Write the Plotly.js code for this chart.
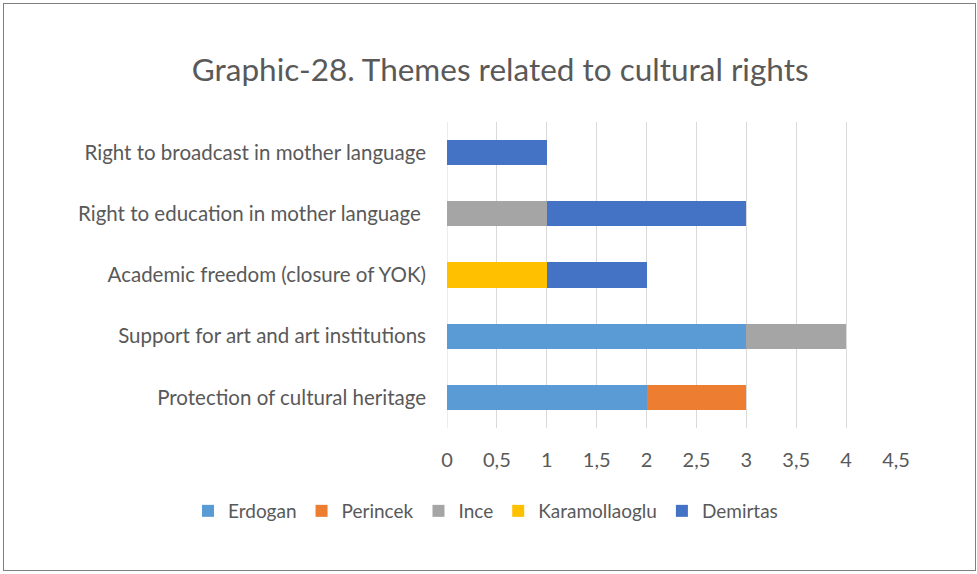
<!DOCTYPE html>
<html>
<head>
<meta charset="utf-8">
<script src="https://cdn.plot.ly/plotly-3.0.1.min.js"></script>
<style>
  html, body { margin: 0; padding: 0; background: #fff; }
  #wrap { position: relative; width: 977px; height: 574px; }
  #chart { width: 977px; height: 574px; }
  #frame { position: absolute; left: 3px; top: 3px; width: 971px; height: 566px; border: 1px solid #7f7f7f; pointer-events: none; }
</style>
</head>
<body>
<div id="wrap">
  <div id="chart"></div>
  <div id="frame"></div>
</div>
<script>
const categories = [
  "Protection of cultural heritage",
  "Support for art and art institutions",
  "Academic freedom (closure of YOK)",
  "Right to education in mother language\u00a0",
  "Right to broadcast in mother language"
];
const seriesNames = ["Erdogan", "Perincek", "Ince", "Karamollaoglu", "Demirtas"];
const erdogan       = [2, 3, 0, 0, 0];
const perincek      = [1, 0, 0, 0, 0];
const ince          = [0, 1, 0, 1, 0];
const karamollaoglu = [0, 0, 1, 0, 0];
const demirtas      = [0, 0, 1, 2, 1];
const tickValues = [0, 0.5, 1, 1.5, 2, 2.5, 3, 3.5, 4, 4.5];

const colors = ["#5B9BD5", "#ED7D31", "#A5A5A5", "#FFC000", "#4472C4"];
const values = [erdogan, perincek, ince, karamollaoglu, demirtas];

const FONT = "Lato, 'Open Sans', sans-serif";
const traces = seriesNames.map((name, i) => ({
  type: "bar",
  orientation: "h",
  name: name,
  x: values[i],
  y: categories,
  marker: { color: colors[i], line: { width: 0 } },
  hoverinfo: "none"
}));

const layout = {
  width: 977,
  height: 574,
  margin: { l: 447, r: 81, t: 122, b: 146 },
  paper_bgcolor: "#ffffff",
  plot_bgcolor: "#ffffff",
  barmode: "stack",
  bargap: 0.59,
  separators: ",.",
  font: { family: FONT, color: "#595959", size: 20 },
  title: {
    text: "Graphic-28. Themes related to cultural rights",
    font: { family: FONT, size: 31.5, color: "#595959" },
    x: 0.512, xref: "container", xanchor: "center",
    y: 1 - 70 / 574, yref: "container", yanchor: "middle"
  },
  xaxis: {
    range: [0, 4.5],
    tickvals: tickValues,
    ticks: "",
    showgrid: true,
    gridcolor: "#d9d9d9",
    gridwidth: 1,
    zeroline: false,
    showline: false,
    ticklabelstandoff: 18,
    tickfont: { family: FONT, size: 20, color: "#595959" },
    fixedrange: true
  },
  yaxis: {
    type: "category",
    categoryorder: "array",
    categoryarray: categories,
    ticks: "",
    showgrid: false,
    zeroline: false,
    showline: false,
    ticklabelstandoff: 20,
    tickfont: { family: FONT, size: 20.5, color: "#595959" },
    fixedrange: true
  },
  shapes: [{
    type: "line", xref: "x", yref: "paper",
    x0: 0, x1: 0, y0: 0, y1: 1,
    line: { color: "#d9d9d9", width: 1 },
    layer: "below"
  }],
  legend: {
    orientation: "h",
    xref: "paper", x: (188 - 447) / 449, xanchor: "left",
    yref: "paper", y: (428 - 511) / 306, yanchor: "middle",
    font: { family: FONT, size: 19, color: "#595959" },
    itemwidth: 30,
    traceorder: "normal",
    bgcolor: "rgba(0,0,0,0)"
  },
  showlegend: true,
  hovermode: false
};

Plotly.newPlot("chart", traces, layout, { displayModeBar: false, staticPlot: true });
</script>
</body>
</html>
